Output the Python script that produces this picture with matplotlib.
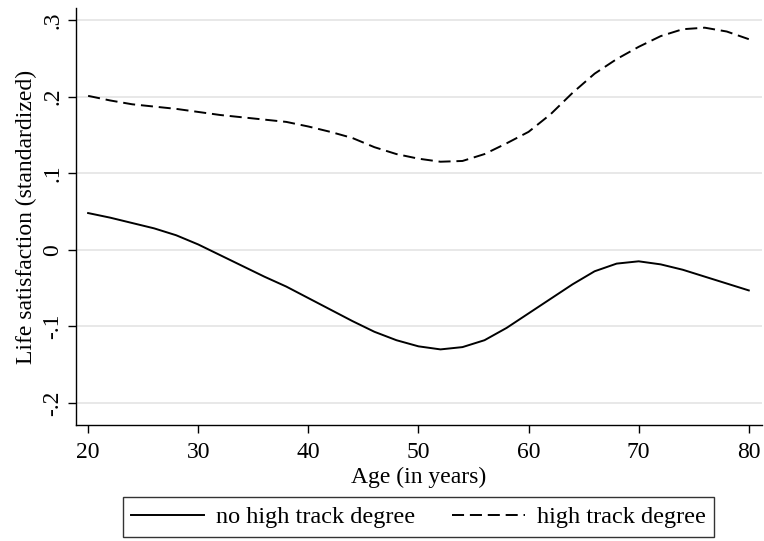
import matplotlib
matplotlib.use("Agg")
import matplotlib.pyplot as plt

plt.rcParams['font.family'] = ['Liberation Serif', 'DejaVu Serif']

age = [20, 22, 24, 26, 28, 30, 32, 34, 36, 38, 40, 42, 44, 46, 48, 50, 52, 54,
       56, 58, 60, 62, 64, 66, 68, 70, 72, 74, 76, 78, 80]
no_high = [0.048, 0.042, 0.035, 0.028, 0.019, 0.007, -0.007, -0.021, -0.035,
           -0.048, -0.063, -0.078, -0.093, -0.107, -0.118, -0.126, -0.130,
           -0.127, -0.118, -0.102, -0.083, -0.064, -0.045, -0.028, -0.018,
           -0.015, -0.019, -0.026, -0.035, -0.044, -0.053]
high = [0.201, 0.195, 0.190, 0.187, 0.184, 0.180, 0.176, 0.173, 0.170, 0.167,
        0.161, 0.154, 0.146, 0.134, 0.125, 0.119, 0.115, 0.116, 0.125, 0.139,
        0.154, 0.177, 0.205, 0.230, 0.249, 0.265, 0.279, 0.288, 0.290, 0.285,
        0.275]

xticks = [20, 30, 40, 50, 60, 70, 80]
yticks = [-0.2, -0.1, 0, 0.1, 0.2, 0.3]
ylabels = ['-.2', '-.1', '0', '.1', '.2', '.3']

fig = plt.figure(figsize=(7.64, 5.41), dpi=100)
ax = fig.add_axes([76/764, 1-425/541, (762-76)/764, (425-8)/541])

for y in yticks:
    ax.axhline(y, color='#e6e6e6', lw=1.3, zorder=0)

l1, = ax.plot(age, no_high, color='black', lw=1.4, label='no high track degree')
l2, = ax.plot(age, high, color='black', lw=1.4, dashes=(6.2, 3.0),
              label='high track degree')

ax.set_xlim(18.9, 81.2)
ax.set_ylim(-0.2287, 0.3157)
ax.set_xticks(xticks)
ax.set_xticklabels([str(x) for x in xticks])
ax.set_yticks(yticks)
ax.set_yticklabels(ylabels, rotation=90, va='center')
ax.tick_params(direction='out', length=6, width=1, labelsize=17, color='black')
ax.tick_params(axis='y', pad=3)
ax.tick_params(axis='x', pad=6)
for s in ['top', 'right']:
    ax.spines[s].set_visible(False)
for s in ['left', 'bottom']:
    ax.spines[s].set_linewidth(1.0)

ax.set_xlabel('Age (in years)', fontsize=17, labelpad=3)
ax.set_ylabel('Life satisfaction (standardized)', fontsize=17, labelpad=4)

leg = fig.legend(handles=[l1, l2], loc='center', bbox_to_anchor=(418.5/764, 1-517/541),
                 ncol=2, fontsize=17.5, frameon=True, fancybox=False,
                 edgecolor='black', handlelength=3, columnspacing=1.5,
                 borderpad=0.35, handletextpad=0.5, borderaxespad=0)
leg.get_frame().set_linewidth(1.0)

fig.savefig('out.png', dpi=100)
